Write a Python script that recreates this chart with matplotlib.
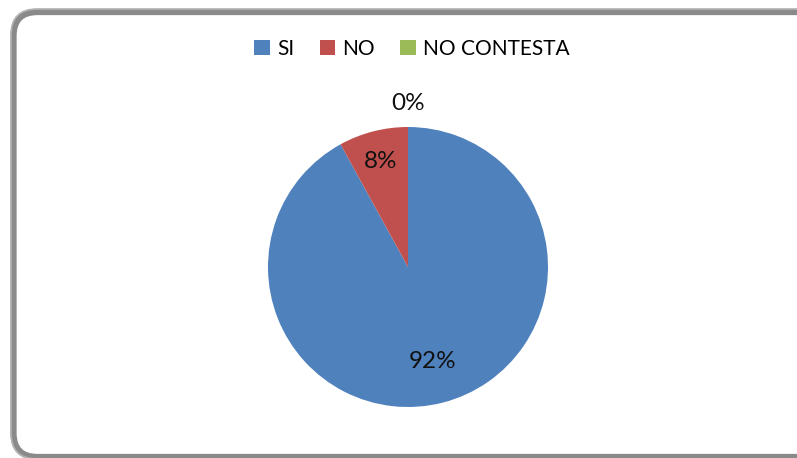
import numpy as np
import matplotlib
matplotlib.use('Agg')
import matplotlib.pyplot as plt
from matplotlib.patches import FancyBboxPatch, Patch

plt.rcParams['font.family'] = ['Lato', 'DejaVu Sans']

categories = ['SI', 'NO', 'NO CONTESTA']
values = [92, 8, 0]
pct_labels = ['92%', '8%', '0%']
colors = ['#4F81BD', '#C0504D', '#9BBB59']
label_dist = [0.70, 0.78, 1.17]   # label distance as fraction of radius

W, H = 797, 458
fig = plt.figure(figsize=(W / 100, H / 100), dpi=100)
ax = fig.add_axes([0, 0, 1, 1])

cx, cy, r = 408, H - 267, 140
wedges, _ = ax.pie(values, colors=colors, startangle=90, counterclock=False,
                   center=(cx, cy), radius=r, wedgeprops=dict(linewidth=0))

for w, txt, d in zip(wedges, pct_labels, label_dist):
    mid = np.deg2rad((w.theta1 + w.theta2) / 2)
    ax.text(cx + d * r * np.cos(mid), cy + d * r * np.sin(mid), txt,
            ha='center', va='center', fontsize=17.5, color='#111111')

# rounded chart-area border
frame = FancyBboxPatch((13.5, H - 457), 820, 457 - 12,
                       boxstyle='round,pad=0,rounding_size=24',
                       fill=False, edgecolor='#8a8a8a', linewidth=4.5)
ax.add_patch(frame)
frame2 = FancyBboxPatch((11, H - 459), 825, 459 - 9,
                        boxstyle='round,pad=0,rounding_size=26',
                        fill=False, edgecolor='#b4b4b4', linewidth=1.2)
ax.add_patch(frame2)

ax.set_xlim(0, W)
ax.set_ylim(0, H)
ax.set_aspect('equal')
ax.axis('off')

handles = [Patch(facecolor=c, edgecolor='none') for c in colors]
fig.legend(handles, categories, loc='center', bbox_to_anchor=(0.517, 0.893),
           ncol=3, frameon=False, fontsize=15, handlelength=0.75,
           handleheight=0.75, handletextpad=0.35, columnspacing=1.2)

plt.savefig('out.png', dpi=100)
plt.close()
